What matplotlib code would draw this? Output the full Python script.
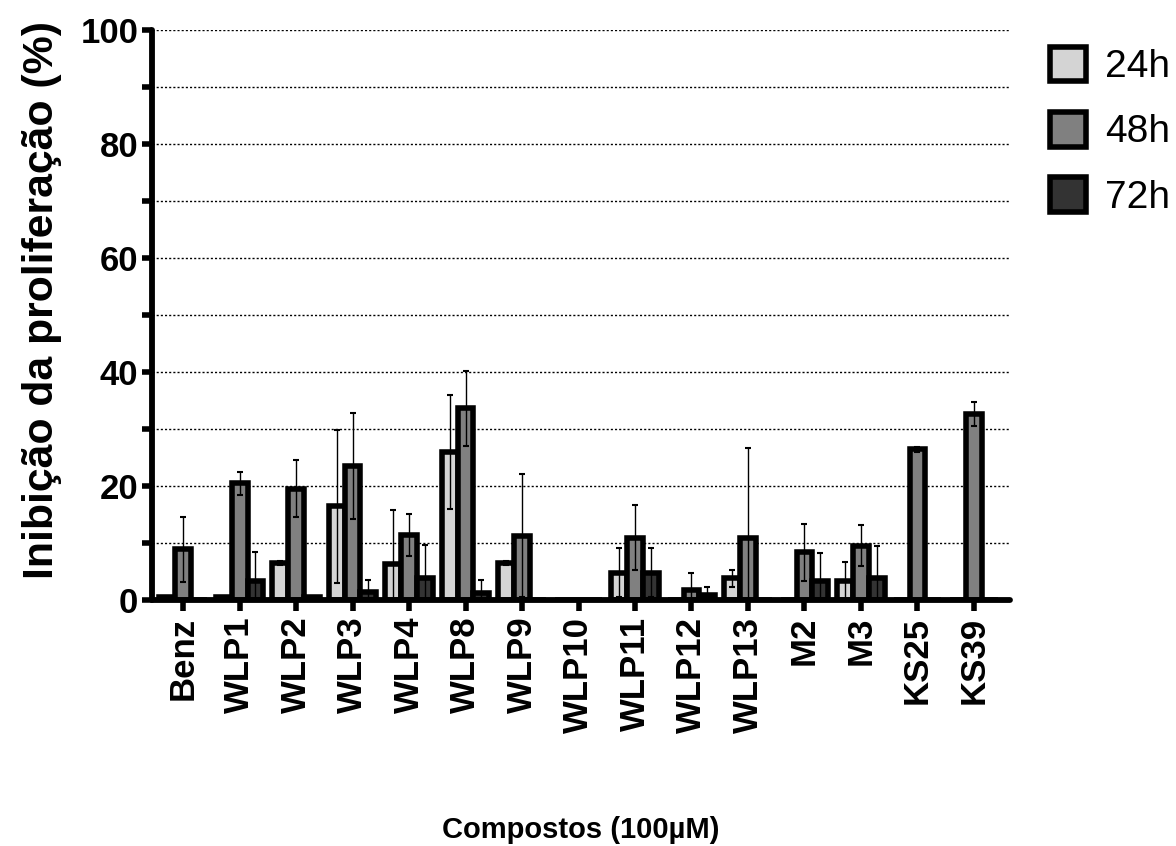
import numpy as np
import matplotlib.pyplot as plt
from matplotlib.patches import Patch

plt.rcParams['font.family'] = ['Liberation Sans', 'DejaVu Sans']

compounds = ['Benz', 'WLP1', 'WLP2', 'WLP3', 'WLP4', 'WLP8', 'WLP9', 'WLP10',
             'WLP11', 'WLP12', 'WLP13', 'M2', 'M3', 'KS25', 'KS39']
series_names = ['24h', '48h', '72h']

inh_24h = [0.5, 0.5, 6.5, 16.4, 6.4, 26.0, 6.5, 0, 4.8, 0, 3.8, 0, 3.3, 0, 0]
inh_48h = [8.9, 20.5, 19.5, 23.5, 11.4, 33.6, 11.3, 0, 10.9, 1.8, 10.9, 8.4, 9.5, 26.4, 32.7]
inh_72h = [0, 3.4, 0.5, 1.4, 3.8, 1.3, 0, 0, 4.8, 0.8, 0, 3.3, 3.8, 0, 0]

err_24h = [0, 0, 0.3, 13.5, 9.3, 10.0, 0.3, 0, 4.3, 0, 1.5, 0, 3.4, 0, 0]
err_48h = [5.7, 2.0, 5.0, 9.3, 3.6, 6.5, 10.8, 0, 5.7, 2.9, 15.7, 5.0, 3.6, 0.4, 2.1]
err_72h = [0, 5.0, 0, 2.1, 5.9, 2.2, 0, 0, 4.3, 1.4, 0, 5.0, 5.6, 0, 0]

colors = ['#d4d4d4', '#808080', '#333333']

fig = plt.figure(figsize=(11.76, 8.46), dpi=100)
ax = fig.add_axes([0.1293, 0.2908, 0.7296, 0.6738])

x = np.arange(len(compounds))
w = 0.28
values = [inh_24h, inh_48h, inh_72h]
errors = [err_24h, err_48h, err_72h]

# dotted grid first so bars sit on top
for yv in range(10, 101, 10):
    ax.axhline(yv, color='black', linestyle=(0, (1.5, 1.5)), linewidth=1.0, zorder=0)

for i, (vals, errs, col) in enumerate(zip(values, errors, colors)):
    pos = x + (i - 1) * w
    ax.bar(pos, vals, width=w, color=col, edgecolor='black', linewidth=4,
           label=series_names[i], zorder=2)
    vals = np.array(vals)
    errs = np.array(errs)
    m = errs > 0
    ax.errorbar(pos[m], vals[m], yerr=errs[m], fmt='none', ecolor='black',
                elinewidth=1.0, capsize=2, capthick=1.5, zorder=3)

ax.set_xlim(-0.55, 14.64)
ax.set_ylim(0, 100)

for side in ['top', 'right']:
    ax.spines[side].set_visible(False)
for side in ['left', 'bottom']:
    ax.spines[side].set_linewidth(4.2)
    ax.spines[side].set_capstyle('round')
    ax.spines[side].set_zorder(4)

ax.set_yticks(range(0, 101, 20))
ax.set_yticks(range(10, 100, 20), minor=True)
ax.tick_params(axis='y', which='major', length=7, width=4, labelsize=25, pad=3)
ax.tick_params(axis='y', which='minor', length=7, width=4)
for lab in ax.get_yticklabels():
    lab.set_fontweight('bold')

ax.set_xticks(x)
ax.set_xticklabels(compounds, rotation=90, fontsize=25, fontweight='bold')
ax.tick_params(axis='x', length=8, width=4, pad=4)

ax.set_ylabel('Inibição da proliferação (%)', fontsize=30.8, fontweight='bold')
ax.yaxis.set_label_coords(-0.105, 0.526)
ax.set_xlabel('Compostos (100µM)', fontsize=21, fontweight='bold', labelpad=60)

handles = [Patch(facecolor=c, edgecolor='black', linewidth=4) for c in colors]
ax.legend(handles, series_names, loc='upper left', bbox_to_anchor=(1.024, 1.005),
          frameon=False, fontsize=28, handlelength=0.92, handleheight=1.0,
          handletextpad=0.5, labelspacing=0.68, borderpad=0)

fig.savefig('out.png', dpi=100)
